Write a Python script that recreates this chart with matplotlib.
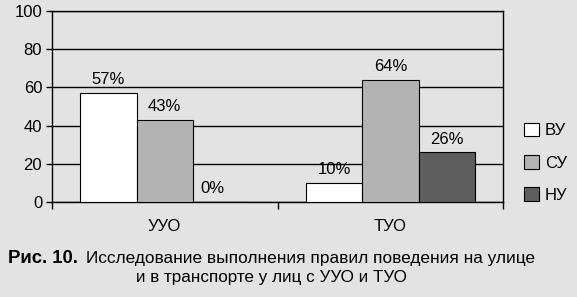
import numpy as np
import matplotlib.pyplot as plt

plt.rcParams['font.family'] = ['Liberation Sans', 'DejaVu Sans']

groups = ['УУО', 'ТУО']
series = ['ВУ', 'СУ', 'НУ']
values = {
    'ВУ': [57, 10],
    'СУ': [43, 64],
    'НУ': [0, 26],
}
colors = ['white', '#b3b3b3', '#5e5e5e']
bg = '#e3e3e3'

fig = plt.figure(figsize=(5.77, 2.97), dpi=100, facecolor=bg)
ax = fig.add_axes([0.090, 0.320, 0.782, 0.643], facecolor=bg)

x = np.arange(len(groups))
width = 0.25
handles = []
for i, (name, col) in enumerate(zip(series, colors)):
    pos = x + (i - 1) * width
    b = ax.bar(pos, values[name], width=width, color=col, edgecolor='black',
               linewidth=0.8, label=name, zorder=3)
    handles.append(b)
    for px, v in zip(pos, values[name]):
        ax.text(px - (0.04 if v == 0 else 0), v + 3, f'{v}%', ha='center',
                va='bottom', fontsize=12, zorder=4)

ax.set_xlim(-0.5, 1.5)
ax.set_ylim(0, 100)
ax.set_yticks(range(0, 101, 20))
ax.yaxis.grid(True, color='black', linewidth=1)
ax.set_axisbelow(True)
ax.tick_params(axis='y', labelsize=12, length=4, width=1, pad=3)

ax.set_xticks([-0.5, 0.5, 1.5])
ax.set_xticklabels([])
ax.tick_params(axis='x', length=5, width=1)
for xi, g in zip(x, groups):
    ax.text(xi, -9, g, ha='center', va='top', fontsize=12)

for s in ['left', 'right', 'top', 'bottom']:
    ax.spines[s].set_color('black')
    ax.spines[s].set_linewidth(1)

fig.legend(handles=handles, labels=series, loc='center left',
           bbox_to_anchor=(0.908, 0.452), frameon=False, fontsize=12,
           handlelength=0.9, handleheight=0.9, handletextpad=0.35,
           labelspacing=1.0, borderpad=0, borderaxespad=0)

# caption: bold label followed by regular text on the same line
fig.text(8 / 577, 0.131, 'Рис. 10.', fontsize=13.3, fontweight='bold',
         ha='left', va='center')
fig.text(86 / 577, 0.131,
         'Исследование выполнения правил поведения на улице',
         fontsize=12.4, ha='left', va='center')
fig.text(0.470, 0.067, 'и в транспорте у лиц с УУО и ТУО', fontsize=12.3,
         ha='center', va='center')

fig.savefig('out.png', dpi=100, facecolor=bg)
